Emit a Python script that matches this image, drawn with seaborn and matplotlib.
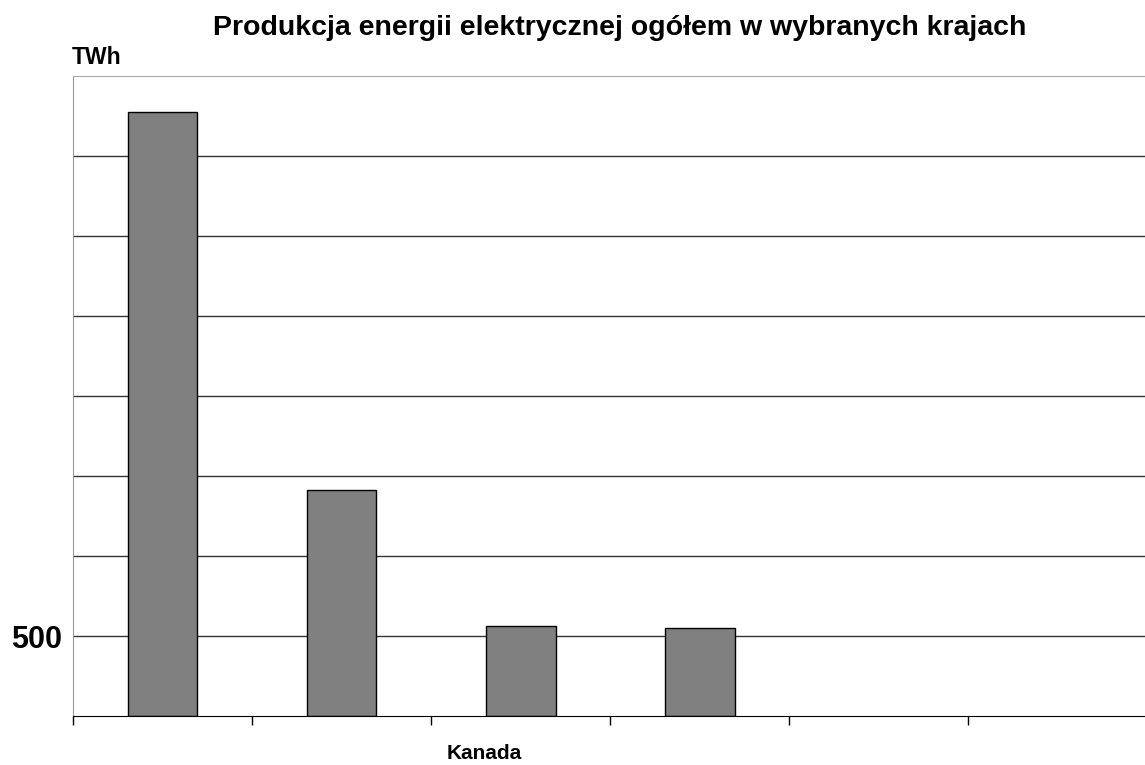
import matplotlib
matplotlib.use("Agg")
import matplotlib.pyplot as plt
import matplotlib.transforms as mtransforms
import seaborn as sns
import pandas as pd

# data (TWh)
countries = ["k1", "k2", "Kanada", "k4", "k5", "k6"]
shown = ["k1", "k2", "Kanada", "k4"]
production = [3775, 1412, 562, 550]
tick_labels = ["", "", "Kanada", "", "", ""]

df = pd.DataFrame({"kraj": shown, "TWh": production})

sns.set_style("white")
plt.rcParams["font.family"] = ["Liberation Sans", "DejaVu Sans"]
plt.rcParams["text.color"] = "black"
plt.rcParams["xtick.color"] = "black"
plt.rcParams["ytick.color"] = "black"

fig = plt.figure(figsize=(11.45, 7.65), dpi=100)
ax = fig.add_axes([73 / 1145, 49 / 765, 1 - 73 / 1145 + 0.002, 640 / 765])

sns.barplot(data=df, x="kraj", y="TWh", order=countries, color="#808080",
            saturation=1, width=0.39, edgecolor="black", linewidth=1, ax=ax)

ax.set_ylim(0, 4000)
ax.set_xlim(-0.5, 5.5)
ax.set_yticks(range(500, 4000, 500))
ax.set_yticklabels(["500"] + [""] * 6, fontsize=22, fontweight="bold")
ax.yaxis.grid(True, color="#333333", linewidth=1)
ax.set_axisbelow(True)
ax.tick_params(axis="y", length=0, pad=8)

# category boundaries get tick marks, names sit between them
ax.set_xticks([i - 0.5 for i in range(7)], minor=True)
ax.set_xticks(range(6))
ax.set_xticklabels(tick_labels, fontsize=15, fontweight="bold")
ax.tick_params(axis="x", which="major", length=0, pad=20)
ax.tick_params(axis="x", which="minor", bottom=True, length=6.5, width=1,
               color="black", direction="out")
shift = mtransforms.ScaledTranslation(-36 / 100, 0, fig.dpi_scale_trans)
for lab in ax.get_xticklabels():
    lab.set_transform(lab.get_transform() + shift)

ax.spines["left"].set_color("#999999")
ax.spines["top"].set_color("#aaaaaa")
ax.spines["right"].set_visible(False)
ax.spines["bottom"].set_color("black")
ax.set_xlabel("")
ax.set_ylabel("")

fig.text(72 / 1145, 1 - 57 / 765, "TWh", fontsize=16.5, fontweight="bold", va="center")
fig.text(620 / 1145, 1 - 28 / 765, "Produkcja energii elektrycznej ogółem w wybranych krajach",
         fontsize=20.5, fontweight="bold", ha="center", va="center")

plt.savefig("out.png", dpi=100)
plt.close()
